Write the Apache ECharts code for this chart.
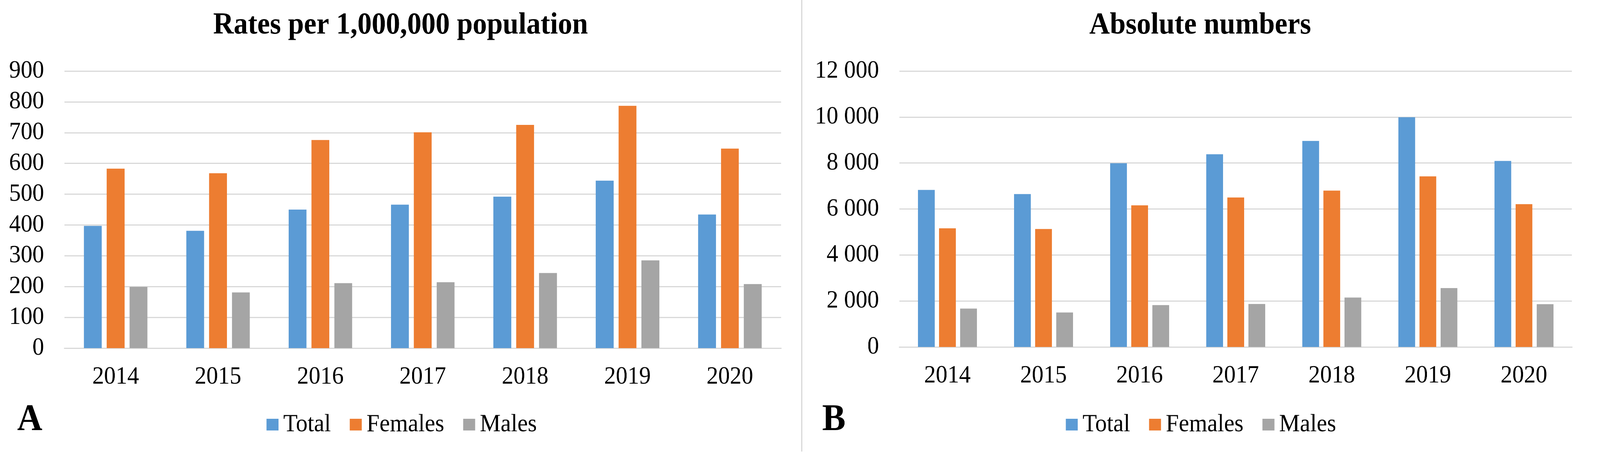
<!DOCTYPE html>
<html>
<head>
<meta charset="utf-8">
<style>
  html, body { margin: 0; padding: 0; background: #ffffff; overflow: hidden; }
  #chart { width: 4394px; height: 1194px; transform-origin: 0 0; }
</style>
<script src="https://cdn.jsdelivr.net/npm/echarts@6/dist/echarts.min.js"></script>
</head>
<body>
<div id="chart"></div>
<script>
// ---- Data ----
const years = ['2014', '2015', '2016', '2017', '2018', '2019', '2020'];
const seriesNames = ['Total', 'Females', 'Males'];

// Panel A: rates per 1,000,000 population
const rateTotal   = [397, 381, 450, 466, 492, 544, 434];
const rateFemales = [583, 568, 676, 701, 725, 787, 648];
const rateMales   = [199, 181, 211, 214, 244, 285, 208];

// Panel B: absolute numbers
const absTotal   = [6830, 6650, 7990, 8380, 8960, 9990, 8090];
const absFemales = [5160, 5130, 6160, 6500, 6800, 7420, 6210];
const absMales   = [1670, 1500, 1820, 1870, 2150, 2560, 1860];

// Tick labels
const rateTicks = ['0', '100', '200', '300', '400', '500', '600', '700', '800', '900'];
const absTicks  = ['0', '2 000', '4 000', '6 000', '8 000', '10 000', '12 000'];

const titles = ['Rates per 1,000,000 population', 'Absolute numbers'];
const panelLetters = ['A', 'B'];

// ---- Styling ----
const FONT = 'Liberation Serif';
const colors = ['#5B9BD5', '#ED7D31', '#A5A5A5'];
const gridColor = '#D9D9D9';

// The chart is drawn on a 4394 x 1194 design canvas, then fitted to the viewport.
const el = document.getElementById('chart');
const W = window.innerWidth || 4394;
const H = window.innerHeight || 1194;
if (W !== 4394 || H !== 1194) {
  el.style.transform = 'scale(' + (W / 4394) + ',' + (H / 1194) + ')';
}

const chart = echarts.init(el, null, { devicePixelRatio: 2 });

function makeSeries(name, data, idx, color, barWidth, barGap) {
  return {
    name: name,
    type: 'bar',
    xAxisIndex: idx,
    yAxisIndex: idx,
    data: data,
    barWidth: barWidth,
    barGap: barGap,
    itemStyle: { color: color },
    emphasis: { disabled: true },
    animation: false
  };
}

function xAxisFor(idx) {
  return {
    type: 'category',
    gridIndex: idx,
    data: years,
    axisLine: { show: true, lineStyle: { color: gridColor, width: 3 } },
    axisTick: { show: false },
    axisLabel: { fontFamily: FONT, fontSize: 64, color: '#000', margin: 42 }
  };
}

function legendFor(left) {
  return {
    data: seriesNames, left: left, top: 1056, icon: 'rect',
    itemWidth: 33, itemHeight: 30, itemGap: 52, padding: 0,
    textStyle: { fontFamily: FONT, fontSize: 64, color: '#000', padding: [0, 0, 0, 8] },
    selectedMode: false
  };
}

function titleFor(text, cx) {
  return {
    text: text, left: cx, top: 27, textAlign: 'center', padding: 0,
    textStyle: { fontFamily: FONT, fontSize: 78, fontWeight: 'bold', color: '#000' }
  };
}

const option = {
  backgroundColor: '#ffffff',
  animation: false,
  color: colors,
  title: [titleFor(titles[0], 1100), titleFor(titles[1], 3296)],
  legend: [legendFor(732), legendFor(2927)],
  grid: [
    { left: 177, top: 182, width: 1968, height: 710, containLabel: false },
    { left: 2470, top: 182, width: 1847, height: 707, containLabel: false }
  ],
  xAxis: [xAxisFor(0), xAxisFor(1)],
  yAxis: [
    {
      type: 'value', gridIndex: 0, min: 0, max: 900, interval: 100,
      axisLine: { show: false }, axisTick: { show: false },
      splitLine: { show: true, lineStyle: { color: gridColor, width: 3 } },
      axisLabel: {
        fontFamily: FONT, fontSize: 64, color: '#000', margin: 56,
        formatter: function (v) { return rateTicks[Math.round(v / 100)]; }
      }
    },
    {
      type: 'value', gridIndex: 1, min: 0, max: 12000, interval: 2000,
      axisLine: { show: false }, axisTick: { show: false },
      splitLine: { show: true, lineStyle: { color: gridColor, width: 3 } },
      axisLabel: {
        fontFamily: FONT, fontSize: 64, color: '#000', margin: 56,
        formatter: function (v) { return absTicks[Math.round(v / 2000)]; }
      }
    }
  ],
  series: [
    makeSeries(seriesNames[0], rateTotal, 0, colors[0], 49, '28%'),
    makeSeries(seriesNames[1], rateFemales, 0, colors[1], 49, '28%'),
    makeSeries(seriesNames[2], rateMales, 0, colors[2], 49, '28%'),
    makeSeries(seriesNames[0], absTotal, 1, colors[0], 46, '26%'),
    makeSeries(seriesNames[1], absFemales, 1, colors[1], 46, '26%'),
    makeSeries(seriesNames[2], absMales, 1, colors[2], 46, '26%')
  ],
  graphic: [
    {
      type: 'rect', silent: true,
      shape: { x: 2200.5, y: 0, width: 3, height: 1157 },
      style: { fill: gridColor }
    },
    {
      type: 'text', silent: true, x: 47, y: 1077,
      style: {
        text: panelLetters[0], fontFamily: FONT, fontSize: 96, fontWeight: 'bold',
        fill: '#000', textVerticalAlign: 'middle', textAlign: 'left'
      }
    },
    {
      type: 'text', silent: true, x: 2258, y: 1077,
      style: {
        text: panelLetters[1], fontFamily: FONT, fontSize: 96, fontWeight: 'bold',
        fill: '#000', textVerticalAlign: 'middle', textAlign: 'left'
      }
    }
  ]
};

chart.setOption(option);
</script>
</body>
</html>
